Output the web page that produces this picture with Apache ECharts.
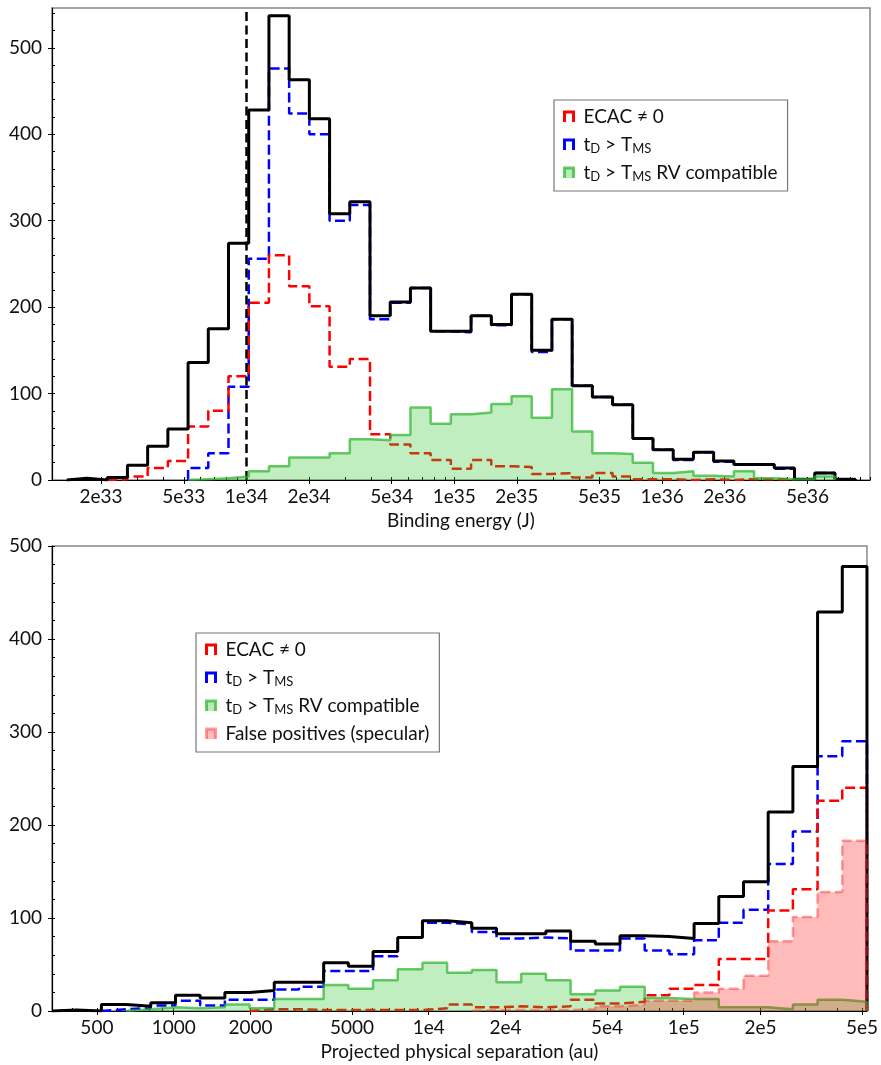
<!DOCTYPE html>
<html><head><meta charset="utf-8">
<script src="https://cdn.jsdelivr.net/npm/echarts@6/dist/echarts.min.js"></script>
<style>html,body{margin:0;padding:0;background:#fff}#c{width:881px;height:1065px}</style>
</head><body><div id="c"></div>
<script>
const FONT = 'Lato, "DejaVu Sans", sans-serif';

// ---------- Top panel: binding energy (J), 39 log-spaced bins ----------
const energyEdgeLog = [33.136, 36.9285];          // log10 of first and last bin edge
const energyAxisRange = [1.161e33, 1.0e37];
const energyTotal = [2,0,3,17,39,59,136,175,274,428,537,463,418,308,322,190,206,222,172,172,190,180,215,150,186,109,96,87,48,35,24,32,22,18,18,14,1,8,1];
const energyTdTms = [0,0,0,0,0,0,14,31,108,256,476,424,400,300,318,186,205,222,172,171,190,179,215,148,186,109,96,87,48,35,23,32,21,18,18,13,1,8,1];
const energyEcac  = [0,0,1,4,14,22,62,80,120,205,260,224,201,131,140,53,41,31,23,13,23,16,15,7,8,3,8,4,1,1,0,1,0,1,1,1,0,0,0];
const energyRv    = [0,0,0,0,0,0,1,2,4,10,16,26,26,31,47,46,52,84,65,76,78,88,97,72,105,56,31,30,20,8,10,5,4,10,2,1,1,4,0];
const energyTicks = [2e33,5e33,1e34,2e34,5e34,1e35,2e35,5e35,1e36,2e36,5e36];
const energyRefLine = 1e34;
const energyYMax = 546;
const energyYTicks = [0,100,200,300,400,500];

// ---------- Bottom panel: projected separation (au), 33 log-spaced bins ----------
const sepEdgeLog = [2.5229, 5.7186];
const sepTotal = [1,0,7,5,9,17,14,20,22,31,31,52,48,64,79,97,95,89,83,83,86,75,72,81,80,78,94,123,139,214,263,429,478];
const sepTdTms = [0,0,2,3,6,11,6,12,12,23,26,43,43,59,79,95,93,85,78,79,78,65,65,78,65,61,76,95,109,158,193,274,290];
const sepEcac  = [0,0,0,0,0,0,0,0,2,2,1,1,1,1,1,3,7,4,5,4,5,12,8,10,17,24,28,56,56,108,131,226,240];
const sepRv    = [0,0,0,2,4,3,4,7,3,13,13,28,24,33,45,52,41,44,31,40,33,18,22,26,14,13,13,4,4,2,7,12,10];
const sepFalse = [0,0,0,0,0,0,0,0,0,0,0,0,0,0,0,0,0,1,1,1,1,2,5,7,11,11,20,24,38,75,101,128,183];
const sepTicks = [500,1000,2000,5000,1e4,2e4,5e4,1e5,2e5,5e5];
const sepYMax = 500;
const sepYTicks = [0,100,200,300,400,500];

const NAMES = {ecac:'ECAC ≠ 0', td:'t_D > T_MS', rv:'t_D > T_MS RV compatible', fp:'False positives (specular)'};

function logEdges(range, n) {
  const e = [];
  for (let i = 0; i <= n; i++) e.push(Math.pow(10, range[0] + (range[1] - range[0]) * i / n));
  return e;
}
function stepData(edges, counts) {
  let first = 0; while (first < counts.length && counts[first] <= 0) first++;
  let last = counts.length - 1; while (last > 0 && counts[last] <= 0) last--;
  const pts = [[edges[first], 0]];
  for (let i = first; i <= last; i++) pts.push([edges[i], counts[i]]);
  pts.push([edges[last + 1], counts[last]]);
  pts.push([edges[last + 1], 0]);
  return pts;
}
function minorTicks(range) {
  const out = [];
  for (let p = Math.floor(Math.log10(range[0])); p <= Math.ceil(Math.log10(range[1])); p++)
    for (let k = 1; k <= 9; k++) { const v = k * Math.pow(10, p); if (v >= range[0] && v <= range[1]) out.push(v); }
  return out;
}
function every(step, max) { const o = []; for (let v = 0; v <= max; v += step) o.push(v); return o; }
function sci(v) {
  const p = Math.floor(Math.log10(v) + 1e-9);
  return Math.round(v / Math.pow(10, p)) + 'e' + p;
}
function sepFmt(v) { return v < 1e4 ? String(Math.round(v)) : sci(v); }

const eEdges = logEdges(energyEdgeLog, energyTotal.length);
const sEdges = logEdges(sepEdgeLog, sepTotal.length);
const sepAxisRange = [sEdges[0], sEdges[sEdges.length - 1]];

const labelStyle = {fontSize: 19, color: '#111', fontFamily: FONT};

function xAxes(grid, range, ticks, fmt, name) {
  return [{
    gridIndex: grid, type: 'log', logBase: 10, min: range[0], max: range[1], position: 'bottom',
    axisLine: {show: true, onZero: false, lineStyle: {color: '#000', width: 1.2}},
    axisTick: {show: true, customValues: ticks, length: 4, inside: false, lineStyle: {color: '#000', width: 1}},
    axisLabel: Object.assign({customValues: ticks, formatter: fmt, margin: 7}, labelStyle),
    splitLine: {show: false}, minorTick: {show: false},
    name: name, nameLocation: 'middle', nameGap: 31,
    nameTextStyle: labelStyle
  }, {
    gridIndex: grid, type: 'log', logBase: 10, min: range[0], max: range[1], position: 'bottom',
    axisLine: {show: false},
    axisTick: {show: true, customValues: minorTicks(range), length: 3, inside: true, lineStyle: {color: '#000', width: 1}},
    axisLabel: {show: false}, splitLine: {show: false}
  }];
}
function yAxes(grid, max, ticks) {
  return [{
    gridIndex: grid, type: 'value', min: 0, max: max, position: 'left',
    axisLine: {show: true, onZero: false, lineStyle: {color: '#000', width: 1.2}},
    axisTick: {show: true, customValues: ticks, length: 4, inside: false, lineStyle: {color: '#000', width: 1}},
    axisLabel: Object.assign({customValues: ticks, margin: 10}, labelStyle),
    splitLine: {show: false}
  }, {
    gridIndex: grid, type: 'value', min: 0, max: max, position: 'left',
    axisLine: {show: false},
    axisTick: {show: true, customValues: every(20, max), length: 3, inside: true, lineStyle: {color: '#000', width: 1}},
    axisLabel: {show: false}, splitLine: {show: false}
  }];
}

const BLUE = '#0000ff', RED = '#ff0000';
const GREEN_FILL = 'rgba(50,200,50,0.30)', GREEN_LINE = 'rgba(40,180,40,0.7)';
const PINK_FILL = 'rgba(255,0,0,0.27)', PINK_LINE = 'rgba(255,40,40,0.45)';
const DASH = [10, 4.5];

function stepSeries(name, data, xi, yi, line, area, z) {
  const s = {
    name: name, type: 'line', xAxisIndex: xi, yAxisIndex: yi, data: data, step: 'end',
    symbol: 'none', showSymbol: false, animation: false, z: z,
    lineStyle: line, itemStyle: {color: line.color}
  };
  if (area) s.areaStyle = {color: area, opacity: 1};
  return s;
}

const series = [
  stepSeries(NAMES.td, stepData(eEdges, energyTdTms), 0, 0, {color: BLUE, width: 2.5, type: DASH}, null, 2),
  stepSeries(NAMES.ecac, stepData(eEdges, energyEcac), 0, 0, {color: RED, width: 2.5, type: DASH}, null, 3),
  Object.assign(stepSeries('total', stepData(eEdges, energyTotal), 0, 0, {color: '#000', width: 3}, null, 4), {
    markLine: {silent: true, symbol: 'none', animation: false,
      lineStyle: {color: '#000', width: 2.5, type: [9, 4.5]}, label: {show: false},
      data: [{xAxis: energyRefLine}]}
  }),
  stepSeries(NAMES.rv, stepData(eEdges, energyRv), 0, 0, {color: GREEN_LINE, width: 2.5}, GREEN_FILL, 5),

  stepSeries(NAMES.td, stepData(sEdges, sepTdTms), 2, 2, {color: BLUE, width: 2.5, type: DASH}, null, 2),
  stepSeries(NAMES.ecac, stepData(sEdges, sepEcac), 2, 2, {color: RED, width: 2.5, type: DASH}, null, 3),
  stepSeries('total', stepData(sEdges, sepTotal), 2, 2, {color: '#000', width: 3}, null, 4),
  stepSeries(NAMES.rv, stepData(sEdges, sepRv), 2, 2, {color: GREEN_LINE, width: 2.5}, GREEN_FILL, 5),
  stepSeries(NAMES.fp, stepData(sEdges, sepFalse), 2, 2, {color: PINK_LINE, width: 2.5, type: DASH}, PINK_FILL, 6)
];

const ICON = 'path://M0,10 L0,0 L9,0 L9,10';
const legendItems = {
  ecac: {name: NAMES.ecac, icon: ICON, itemStyle: {color: 'rgba(0,0,0,0)', borderColor: RED, borderWidth: 3}},
  td:   {name: NAMES.td, icon: ICON, itemStyle: {color: 'rgba(0,0,0,0)', borderColor: BLUE, borderWidth: 3}},
  rv:   {name: NAMES.rv, icon: ICON, itemStyle: {color: 'rgba(50,200,50,0.35)', borderColor: GREEN_LINE, borderWidth: 3}},
  fp:   {name: NAMES.fp, icon: ICON, itemStyle: {color: PINK_FILL, borderColor: PINK_LINE, borderWidth: 3}}
};
function legendFmt(name) {
  return '{g| }' + name.replace(/_([A-Z]+)/g, '{s|$1}');
}
function legend(left, top, items) {
  return {
    orient: 'vertical', left: left, top: top, itemWidth: 9, itemHeight: 10, itemGap: 8,
    padding: [7, 10, 8, 9], borderColor: '#777', borderWidth: 1.2, backgroundColor: '#fff',
    selectedMode: false, formatter: legendFmt,
    textStyle: {fontSize: 19, color: '#111', fontFamily: FONT, lineHeight: 20,
      rich: {g: {width: 5, fontSize: 19, lineHeight: 20},
             s: {fontSize: 13, fontFamily: FONT, color: '#111', lineHeight: 8, verticalAlign: 'bottom'}}},
    data: items
  };
}

const option = {
  backgroundColor: '#fff',
  animation: false,
  grid: [
    {left: 52, right: 11, top: 8, height: 472, show: true, borderColor: '#888', borderWidth: 1.5, backgroundColor: 'rgba(0,0,0,0)'},
    {left: 52, right: 12, top: 546, height: 465, show: true, borderColor: '#888', borderWidth: 1.5, backgroundColor: 'rgba(0,0,0,0)'}
  ],
  xAxis: [].concat(
    xAxes(0, energyAxisRange, energyTicks, sci, 'Binding energy (J)'),
    xAxes(1, sepAxisRange, sepTicks, sepFmt, 'Projected physical separation (au)')
  ),
  yAxis: [].concat(yAxes(0, energyYMax, energyYTicks), yAxes(1, sepYMax, sepYTicks)),
  legend: [
    legend(554, 100, [legendItems.ecac, legendItems.td, legendItems.rv]),
    legend(196, 633, [legendItems.ecac, legendItems.td, legendItems.rv, legendItems.fp])
  ],
  series: series
};

const chart = echarts.init(document.getElementById('c'), null, {renderer: 'canvas'});
chart.setOption(option);
</script></body></html>
